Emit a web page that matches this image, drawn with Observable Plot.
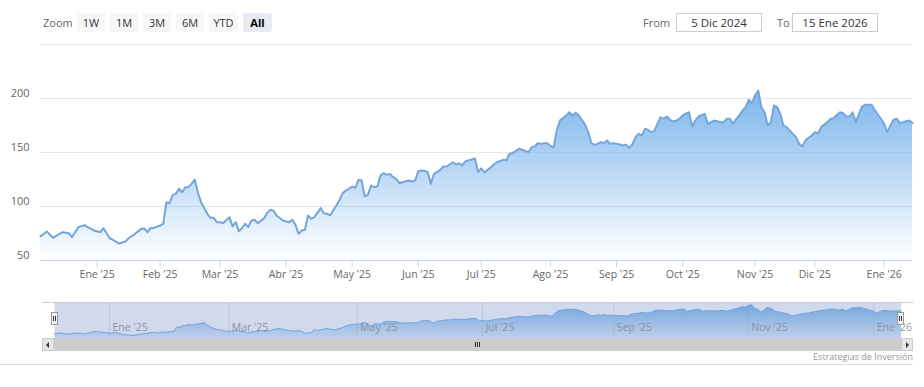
<!DOCTYPE html>
<html><head><meta charset="utf-8">
<script src="https://cdn.jsdelivr.net/npm/d3@7"></script>
<script src="https://cdn.jsdelivr.net/npm/@observablehq/plot@0.6"></script>
<style>
html,body{margin:0;padding:0;background:#fff;}
body{width:924px;height:387px;position:relative;overflow:hidden;font-family:"Open Sans",sans-serif;}
.abs{position:absolute;}
.lbl{position:absolute;top:13px;height:19px;line-height:19px;font-size:11px;color:#666;}
.btn{position:absolute;top:13px;height:19px;width:28px;line-height:19px;text-align:center;font-size:11px;color:#333;background:#f7f7f7;border-radius:2px;}
.btn.sel{background:#e6ebf5;color:#000;font-weight:bold;}
.inp{position:absolute;top:13px;height:19px;line-height:17px;box-sizing:border-box;border:1px solid #ccc;text-align:center;font-size:11.5px;color:#333;}
.handle{position:absolute;top:312px;width:7px;height:13px;box-sizing:border-box;background:#f2f2f2;border:1px solid #999;}
.handle::before,.handle::after{content:"";position:absolute;top:3px;width:1px;height:5px;background:#333;}
.handle::before{left:1px}.handle::after{left:3px}
</style></head><body>
<svg width="0" height="0" style="position:absolute">
  <defs>
    <linearGradient id="mainGrad" x1="0" y1="0" x2="0" y2="1">
      <stop offset="0" stop-color="#7cb5ec" stop-opacity="1"/>
      <stop offset="1" stop-color="#7cb5ec" stop-opacity="0"/>
    </linearGradient>
    <linearGradient id="navGrad" x1="0" y1="0" x2="0" y2="1">
      <stop offset="0" stop-color="#7cb5ec" stop-opacity="1"/>
      <stop offset="1" stop-color="#7cb5ec" stop-opacity="0.2"/>
    </linearGradient>
  </defs>
</svg>
<div id="main" class="abs" style="left:0;top:0"></div>
<div id="nav" class="abs" style="left:0;top:296px"></div>

<span class="lbl" style="left:43px">Zoom</span>
<span class="btn" style="left:77px">1W</span>
<span class="btn" style="left:110px">1M</span>
<span class="btn" style="left:143px">3M</span>
<span class="btn" style="left:176px">6M</span>
<span class="btn" style="left:209px;width:29px">YTD</span>
<span class="btn sel" style="left:243px;width:29px">All</span>
<span class="lbl" style="left:643px">From</span>
<span class="inp" style="left:676px;width:86px">5 Dic 2024</span>
<span class="lbl" style="left:777px">To</span>
<span class="inp" style="left:792px;width:86px">15 Ene 2026</span>

<div class="abs" style="left:42px;top:302px;width:871px;height:1px;background:#ccc"></div>
<div class="abs" style="left:54px;top:338px;width:847px;height:13px;background:#cdcdcd"></div>
<div class="abs" style="left:42px;top:338px;width:12px;height:13px;box-sizing:border-box;background:#e6e6e6;border:1px solid #ccc"></div>
<div class="abs" style="left:46px;top:342px;width:0;height:0;border-top:3px solid transparent;border-bottom:3px solid transparent;border-right:3px solid #333"></div>
<div class="abs" style="left:901px;top:338px;width:12px;height:13px;box-sizing:border-box;background:#e6e6e6;border:1px solid #ccc"></div>
<div class="abs" style="left:906px;top:342px;width:0;height:0;border-top:3px solid transparent;border-bottom:3px solid transparent;border-left:3px solid #333"></div>
<div class="abs" style="left:475px;top:342px;width:1px;height:5px;background:#333"></div>
<div class="abs" style="left:477px;top:342px;width:1px;height:5px;background:#333"></div>
<div class="abs" style="left:479px;top:342px;width:1px;height:5px;background:#333"></div>
<div class="handle" style="left:51px"></div>
<div class="handle" style="left:897px"></div>
<div class="abs" style="right:11px;top:350px;font-size:9px;color:#999;line-height:13px">Estrategias de Inversión</div>
<div class="abs" style="left:0;top:364px;width:913px;height:1px;background:#ddd"></div>

<script>
// ---- data ----
const dates = [
"2024-12-05","2024-12-09","2024-12-11","2024-12-12","2024-12-16","2024-12-18","2024-12-19","2024-12-23","2024-12-26","2024-12-27","2024-12-31",
"2025-01-03","2025-01-06","2025-01-08","2025-01-10","2025-01-14","2025-01-16","2025-01-17","2025-01-22","2025-01-24","2025-01-27","2025-01-28","2025-01-29","2025-01-30",
"2025-02-03","2025-02-04","2025-02-05","2025-02-06","2025-02-07","2025-02-10","2025-02-11","2025-02-12","2025-02-13","2025-02-14","2025-02-18","2025-02-19","2025-02-20","2025-02-21","2025-02-25","2025-02-26","2025-02-27","2025-02-28",
"2025-03-03","2025-03-04","2025-03-06","2025-03-07","2025-03-10","2025-03-11","2025-03-12","2025-03-13","2025-03-14","2025-03-17","2025-03-18","2025-03-19","2025-03-21","2025-03-24","2025-03-25","2025-03-26","2025-03-27","2025-03-31",
"2025-04-02","2025-04-03","2025-04-04","2025-04-07","2025-04-08","2025-04-09","2025-04-10","2025-04-11","2025-04-14","2025-04-16","2025-04-17","2025-04-21","2025-04-22","2025-04-23","2025-04-24","2025-04-25","2025-04-28","2025-04-29","2025-04-30",
"2025-05-01","2025-05-02","2025-05-05","2025-05-06","2025-05-07","2025-05-08","2025-05-09","2025-05-12","2025-05-13","2025-05-14","2025-05-15","2025-05-16","2025-05-19","2025-05-20","2025-05-21","2025-05-22","2025-05-27","2025-05-28","2025-05-29","2025-05-30",
"2025-06-02","2025-06-03","2025-06-04","2025-06-05","2025-06-06","2025-06-09","2025-06-11","2025-06-12","2025-06-13","2025-06-17","2025-06-18","2025-06-20","2025-06-23","2025-06-24","2025-06-26","2025-06-27","2025-06-30",
"2025-07-01","2025-07-02","2025-07-03","2025-07-07","2025-07-08","2025-07-09","2025-07-11","2025-07-14","2025-07-15","2025-07-16","2025-07-18","2025-07-21","2025-07-23","2025-07-24","2025-07-25","2025-07-28","2025-07-29","2025-07-30","2025-07-31",
"2025-08-01","2025-08-04","2025-08-05","2025-08-06","2025-08-07","2025-08-08","2025-08-11","2025-08-12","2025-08-13","2025-08-14","2025-08-15","2025-08-18","2025-08-19","2025-08-20","2025-08-21","2025-08-22","2025-08-25","2025-08-26","2025-08-27","2025-08-28","2025-08-29",
"2025-09-02","2025-09-03","2025-09-04","2025-09-05","2025-09-08","2025-09-09","2025-09-10","2025-09-11","2025-09-12","2025-09-15","2025-09-16","2025-09-17","2025-09-18","2025-09-19","2025-09-22","2025-09-23","2025-09-24","2025-09-25","2025-09-26","2025-09-29","2025-09-30",
"2025-10-01","2025-10-02","2025-10-03","2025-10-06","2025-10-07","2025-10-08","2025-10-09","2025-10-10","2025-10-13","2025-10-14","2025-10-15","2025-10-16","2025-10-17","2025-10-20","2025-10-21","2025-10-22","2025-10-23","2025-10-24","2025-10-27","2025-10-28","2025-10-29","2025-10-30","2025-10-31",
"2025-11-03","2025-11-04","2025-11-05","2025-11-06","2025-11-07","2025-11-10","2025-11-11","2025-11-12","2025-11-13","2025-11-14","2025-11-17","2025-11-18","2025-11-19","2025-11-20","2025-11-21","2025-11-24","2025-11-25","2025-11-26","2025-11-28",
"2025-12-01","2025-12-02","2025-12-03","2025-12-04","2025-12-05","2025-12-08","2025-12-09","2025-12-10","2025-12-11","2025-12-12","2025-12-15","2025-12-16","2025-12-17","2025-12-18","2025-12-19","2025-12-22","2025-12-23","2025-12-24","2025-12-26","2025-12-29","2025-12-30","2025-12-31",
"2026-01-02","2026-01-05","2026-01-06","2026-01-07","2026-01-08","2026-01-09","2026-01-12","2026-01-13","2026-01-14","2026-01-15"
];
const prices = [
72.2,76.9,71.0,72.8,76.2,75.3,71.6,80.9,82.7,80.9,77.8,
76.2,79.9,70.6,69.1,65.7,67.6,70.6,74.7,79.3,79.6,76.2,80.2,80.2,
82.4,84.0,104.0,103.0,110.8,111.7,116.4,113.2,117.9,117.9,121.0,125.0,113.0,104.0,93.2,89.5,89.5,85.5,
85.5,84.5,90.1,81.5,85.5,77.1,79.9,84.0,80.9,87.0,87.7,84.5,89.0,94.0,96.9,96.3,91.7,87.0,
85.5,87.7,83.0,74.7,77.8,78.4,91.7,88.6,90.1,98.5,93.8,93.2,91.7,96.3,101.0,106.0,112.4,114.8,116.4,
118.5,117.3,124.7,124.1,109.3,110.8,119.4,117.9,118.5,128.7,130.9,129.3,130.2,127.2,125.6,121.6,123.4,124.1,123.1,124.0,
132.7,133.3,133.0,131.8,121.0,130.2,133.9,137.0,137.0,141.0,138.9,140.1,138.0,141.9,143.5,144.4,132.0,
135.3,131.5,133.9,136.0,138.9,141.0,143.2,142.6,148.8,149.4,153.4,152.5,150.3,154.9,155.6,158.6,158.0,158.6,158.6,
156.0,154.9,170.4,179.6,182.0,184.3,187.3,184.3,186.7,184.3,180.3,175.6,168.8,158.6,157.1,158.0,159.6,158.6,161.1,158.0,158.6,
158.0,157.5,156.5,157.1,154.3,157.4,164.2,167.3,165.7,171.9,171.0,168.8,170.0,176.6,182.7,181.2,183.3,180.3,178.7,179.5,181.2,
184.3,186.0,187.3,174.1,179.6,183.3,184.5,185.8,176.6,178.1,179.6,179.0,178.1,178.1,181.2,181.2,176.6,181.0,184.3,188.9,192.0,198.8,195.7,
202.8,207.4,192.0,187.3,175.0,178.1,193.5,192.0,185.8,175.0,173.5,170.4,167.3,164.2,158.0,155.6,161.1,163.6,165.7,
168.8,167.9,173.5,176.0,178.1,181.2,181.8,185.0,187.3,186.4,183.3,183.3,187.3,178.1,185.8,192.6,194.1,194.1,194.1,189.5,185.2,181.2,
176.6,168.8,175.0,180.3,181.2,177.2,178.1,179.0,179.6,177.2
];
const marketHolidays = ["2024-12-25","2025-01-01","2025-01-09","2025-01-20","2025-02-17","2025-04-18","2025-05-26","2025-06-19","2025-07-04","2025-09-01","2025-11-27","2025-12-25","2026-01-01"];
const monthKeys = ["2025-01","2025-02","2025-03","2025-04","2025-05","2025-06","2025-07","2025-08","2025-09","2025-10","2025-11","2025-12","2026-01"];
const monthLabels = ["Ene '25","Feb '25","Mar '25","Abr '25","May '25","Jun '25","Jul '25","Ago '25","Sep '25","Oct '25","Nov '25","Dic '25","Ene '26"];
const navMonthKeys = ["2025-01","2025-03","2025-05","2025-07","2025-09","2025-11","2026-01"];
const yTicks = [50,100,150,200];
const yGrid = [50,100,150,200,250];

// ---- ordinal (trading-day) calendar, as in a stock chart ----
function buildCalendar(start, end, holidays) {
  const hs = new Set(holidays), out = [];
  const e = new Date(end + "T00:00:00Z");
  for (let d = new Date(start + "T00:00:00Z"); d <= e; d.setUTCDate(d.getUTCDate() + 1)) {
    const wd = d.getUTCDay(), s = d.toISOString().slice(0, 10);
    if (wd !== 0 && wd !== 6 && !hs.has(s)) out.push(s);
  }
  return out;
}
const calendar = buildCalendar(dates[0], dates[dates.length - 1], marketHolidays);
const dayIndex = new Map(calendar.map((s, i) => [s, i]));
const data = dates.map((s, k) => ({i: dayIndex.get(s), v: prices[k]}));
const firstDay = key => calendar.findIndex(s => s.startsWith(key));
const tickIdx = monthKeys.map(firstDay);
const tickLabel = new Map(tickIdx.map((t, k) => [t, monthLabels[k]]));
const navTicks = navMonthKeys.map(key => ({i: firstDay(key), label: monthLabels[monthKeys.indexOf(key)]}));
const last = calendar.length - 1;

const font = {background: "transparent", fontFamily: "'Open Sans', sans-serif", fontSize: "11px", color: "#666", overflow: "visible"};

const main = Plot.plot({
  width: 924, height: 290,
  marginTop: 44, marginBottom: 30, marginLeft: 40, marginRight: 12,
  style: font,
  x: {type: "linear", domain: [0, last], axis: null},
  y: {domain: [50, 250], axis: null},
  marks: [
    Plot.ruleY(yGrid, {stroke: "#e6e6e6"}),
    Plot.areaY(data, {x: "i", y1: 50, y2: "v", fill: "url(#mainGrad)", curve: "linear"}),
    Plot.lineY(data, {x: "i", y: "v", stroke: "#74a6dc", strokeWidth: 2, strokeLinejoin: "round"}),
    Plot.ruleY([50], {stroke: "#ccd6eb"}),
    Plot.axisY({ticks: yTicks, tickSize: 0, tickPadding: 11, dy: -5, fill: "#666", label: null}),
    Plot.axisX({ticks: tickIdx, tickFormat: d => tickLabel.get(d), tickSize: 7, tickPadding: 3, stroke: "#ccd6eb", fill: "#666", fontSize: 10.5, label: null})
  ]
});
document.getElementById("main").appendChild(main);

const nav = Plot.plot({
  width: 924, height: 60,
  marginTop: 6.3, marginBottom: 17.7, marginLeft: 54, marginRight: 23.3,
  style: font,
  x: {type: "linear", domain: [0, last], axis: null},
  y: {domain: [50, 216.6], axis: null},
  marks: [
    Plot.ruleX(navTicks, {x: "i", stroke: "#e6e6e6"}),
    Plot.areaY(data, {x: "i", y1: 50, y2: "v", fill: "url(#navGrad)"}),
    Plot.lineY(data, {x: "i", y: "v", stroke: "#7cb5ec", strokeWidth: 1}),
    Plot.text(navTicks, {x: "i", text: "label", frameAnchor: "bottom", dy: -7.5, dx: 3, textAnchor: "start", fill: "#999", fontSize: 10.5}),
    Plot.frame({fill: "rgba(102,133,194,0.3)", stroke: "none"})
  ]
});
document.getElementById("nav").appendChild(nav);
</script>
</body></html>
